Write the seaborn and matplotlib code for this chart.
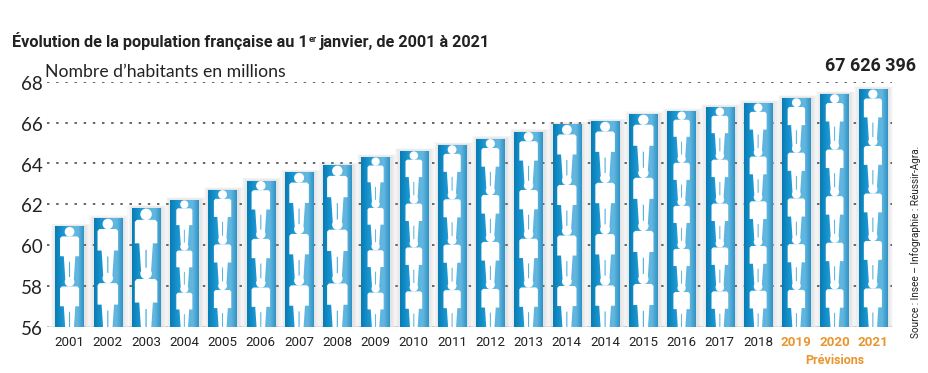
import numpy as np
import pandas as pd
import matplotlib
matplotlib.use('Agg')
import matplotlib.pyplot as plt
from matplotlib.colors import LinearSegmentedColormap
from matplotlib.patches import Ellipse
from matplotlib.transforms import ScaledTranslation
import seaborn as sns

# valeurs (millions d'habitants)
annees = ['2001', '2002', '2003', '2004', '2005', '2006', '2007', '2008', '2009', '2010', '2011',
          '2012', '2013', '2014', '2014', '2015', '2016', '2017', '2018', '2019', '2020', '2021']
population = [60.9, 61.3, 61.8, 62.2, 62.7, 63.15, 63.55, 63.9, 64.3, 64.6, 64.9,
              65.2, 65.55, 65.9, 66.05, 66.4, 66.55, 66.75, 66.95, 67.2, 67.4, 67.63]
nb_personnages = [2, 2, 2, 3, 3, 3, 3, 3, 4, 4, 4, 4, 4, 4, 4, 4, 5, 5, 5, 5, 5, 5]
annees_prevues = ['2019', '2020', '2021']
graduations = [56, 58, 60, 62, 64, 66, 68]

NARROW = ['Roboto', 'DejaVu Sans']
ORANGE = '#E8962E'
NOIR = '#222222'

sns.set_style('white')
plt.rcParams['font.family'] = ['Lato', 'DejaVu Sans']

W, H = 929, 373
fig = plt.figure(figsize=(W / 100, H / 100), dpi=100)
ax = fig.add_axes([47 / W, 1 - 326.7 / H, (892 - 47) / W, (326.7 - 81.7) / H])

df = pd.DataFrame({'rang': range(len(annees)), 'valeur': population})
sns.barplot(data=df, x='rang', y='valeur', width=0.74, color='#1a93cc', ax=ax, zorder=3)

ax.set_xlim(-0.59, 21.5)
ax.set_ylim(56, 68)
ax.set_xlabel('')
ax.set_ylabel('')
sns.despine(ax=ax, left=True, bottom=True, top=True, right=True)

# pointillés horizontaux
ax.set_yticks(graduations)
ax.set_yticklabels(graduations, fontsize=13.5, color=NOIR, va='center')
ax.yaxis.grid(True, color='#3c3c3c', lw=1.1, linestyle=(0, (1.6, 4.4)), zorder=1)
ax.set_axisbelow(True)
ax.tick_params(axis='y', length=0, pad=3)
# les chiffres sont un peu sous les pointillés
for lab in ax.get_yticklabels():
    lab.set_transform(lab.get_transform() + ScaledTranslation(0, -2 / 72, fig.dpi_scale_trans))

ax.set_xticks(range(len(annees)))
ax.set_xticklabels(annees, family=NARROW, fontsize=9.6, color=NOIR)
ax.tick_params(axis='x', length=0, pad=7)
for lab in ax.get_xticklabels()[-len(annees_prevues):]:
    lab.set_color(ORANGE)
    lab.set_fontweight('bold')

# dégradé horizontal des barres
cmap = LinearSegmentedColormap.from_list('barre', ['#0a7cb4', '#138fc9', '#2ba0d8', '#5db6e0', '#62b6de', '#2f94c8'])
degrade = np.linspace(0, 1, 64).reshape(1, -1)

# rapport px/unité pour garder les proportions du personnage
bbox = ax.get_window_extent()
px_x = bbox.width / (ax.get_xlim()[1] - ax.get_xlim()[0])
px_y = bbox.height / (ax.get_ylim()[1] - ax.get_ylim()[0])

# silhouette : x en fraction de la hauteur, y depuis le centre de la tête vers le bas
corps_x = [-0.04, -0.155, -0.19, -0.19, -0.115, -0.085, -0.01, -0.01,
           0.01, 0.01, 0.085, 0.115, 0.19, 0.19, 0.155, 0.04]
corps_y = [0.093, 0.093, 0.13, 0.49, 0.49, 0.95, 0.95, 0.6,
           0.6, 0.95, 0.95, 0.49, 0.49, 0.13, 0.093, 0.093]

for barre, valeur, nb in zip(list(ax.patches), population, nb_personnages):
    x0, larg = barre.get_x(), barre.get_width()
    xc = x0 + larg / 2

    # ombre portée, légère
    for k in range(1, 6):
        d = k * 1.1 / px_x
        ax.fill_between([x0 - d + 1 / px_x, x0 + larg + d + 1 / px_x], 56, valeur + k * 0.6 / px_y,
                        color='#8f8f96', alpha=0.05, lw=0, zorder=2)

    ax.imshow(degrade, cmap=cmap, aspect='auto', extent=(x0, x0 + larg, 56, valeur),
              interpolation='bilinear', zorder=4)
    barre.set_visible(False)

    # personnages empilés
    pas = (valeur - 56) / nb
    rayon = 0.097 * pas
    for i in range(nb):
        yt = valeur - rayon * 1.05 - i * pas
        kx = pas * px_y / px_x
        ax.add_patch(Ellipse((xc, yt), 2 * rayon * px_y / px_x, 2 * rayon, fc='white', ec='none', zorder=6))
        ax.fill(xc + np.array(corps_x) * kx, yt - np.array(corps_y) * pas, fc='white', ec='none', zorder=5)

ax.set_xlim(-0.59, 21.5)
ax.set_ylim(56, 68)
ax.axhline(56, color='#dcdcdf', lw=1.2, zorder=2)


def px_text(x, y, s, **kw):
    return fig.text(x / W, 1 - y / H, s, **kw)


# titre avec 1er en exposant
r = fig.canvas.get_renderer()
t1 = px_text(12, 47, 'Évolution de la population française au 1', family=NARROW, fontweight='bold',
             fontsize=11.7, color=NOIR)
x1 = t1.get_window_extent(r).x1
t2 = px_text(x1 + 0.5, 41.5, 'er', family=NARROW, fontweight='bold', fontsize=6.5, color=NOIR)
x2 = t2.get_window_extent(r).x1
px_text(x2 + 3.5, 47, 'janvier, de 2001 à 2021', family=NARROW, fontweight='bold', fontsize=11.7, color=NOIR)

px_text(45, 77, 'Nombre d’habitants en millions', fontsize=12.7, color=NOIR)
px_text(871, 71, '67 626 396', family=NARROW, fontweight='bold', fontsize=13, color=NOIR, ha='center')
px_text(835, 364, 'Prévisions', family=NARROW, fontweight='bold', fontsize=9, color=ORANGE, ha='center')
px_text(916, 338, 'Source : Insee – Infographie : Réussir-Agra.', family=NARROW, fontsize=7.2, color=NOIR,
        rotation=90, va='bottom', ha='center')

fig.savefig('out.png', dpi=100, facecolor='white')
